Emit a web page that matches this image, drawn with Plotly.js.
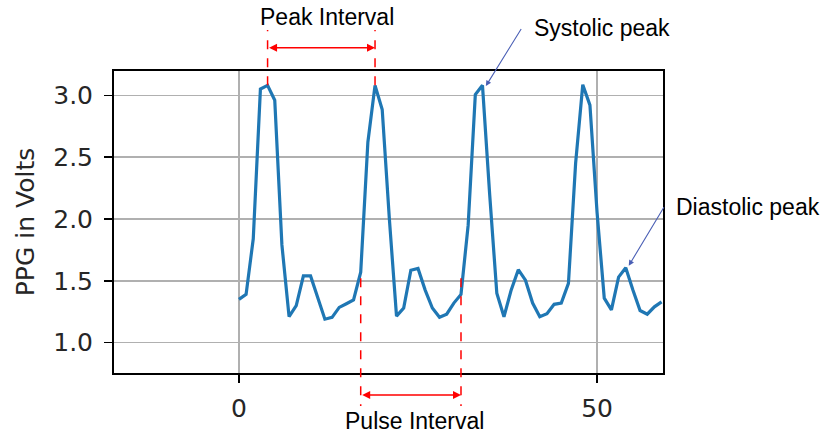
<!DOCTYPE html>
<html>
<head>
<meta charset="utf-8">
<script src="https://cdn.plot.ly/plotly-3.0.1.min.js"></script>
<style>html,body{margin:0;padding:0;background:#fff;}#chart{width:827px;height:433px;}</style>
</head>
<body>
<div id="chart"></div>
<script>
// Sample index (x) and PPG value in volts (y)
var sampleIndex = [0,1,2,3,4,5,6,7,8,9,10,11,12,13,14,15,16,17,18,19,20,21,22,23,24,25,26,27,28,29,30,31,32,33,34,35,36,37,38,39,40,41,42,43,44,45,46,47,48,49,50,51,52,53,54,55,56,57,58,59];
var ppgVolts = [1.35,1.39,1.84,3.05,3.08,2.96,1.79,1.21,1.30,1.54,1.54,1.37,1.19,1.205,1.285,1.315,1.345,1.57,2.62,3.08,2.885,2.0,1.215,1.28,1.585,1.60,1.425,1.28,1.205,1.23,1.32,1.39,1.95,3.005,3.08,2.2,1.40,1.21,1.425,1.59,1.505,1.32,1.21,1.235,1.31,1.32,1.48,2.45,3.085,2.92,2.05,1.36,1.265,1.53,1.605,1.425,1.26,1.23,1.29,1.33];

var xTickVals = [0, 50];
var xTickText = ['0', '50'];
var yTickVals = [1.0, 1.5, 2.0, 2.5, 3.0];
var yTickText = ['1.0', '1.5', '2.0', '2.5', '3.0'];

// interval markers (sample indices)
var peakIntervalStart = 4, peakIntervalEnd = 19;
var pulseIntervalStart = 17, pulseIntervalEnd = 31;

var xRange = [-17.44, 59.2];
var yRange = [0.755, 3.196];
function xp(v){ return (v - xRange[0]) / (xRange[1] - xRange[0]); }
function yp(v){ return (v - yRange[0]) / (yRange[1] - yRange[0]); }

var red = '#ff0000';
var blue = '#4a5fb5';
var annFont = {family: 'Liberation Sans, Arial, sans-serif', size: 23, color: '#000'};

var trace = {
  x: sampleIndex, y: ppgVolts, type: 'scatter', mode: 'lines',
  line: {color: '#1f77b4', width: 3.2}, hoverinfo: 'skip'
};

function vdash(xv, y0, y1){
  return {type: 'line', xref: 'paper', yref: 'paper', x0: xp(xv), x1: xp(xv), y0: y0, y1: y1,
          line: {color: red, width: 1.5, dash: 'dash'}, layer: 'above'};
}

var shapes = [
  vdash(peakIntervalStart, yp(ppgVolts[peakIntervalStart]), 1.136),
  vdash(peakIntervalEnd, yp(ppgVolts[peakIntervalEnd]), 1.136),
  vdash(pulseIntervalStart, yp(1.52), -0.109),
  vdash(pulseIntervalEnd, yp(1.52), -0.109)
];

var annotations = [
  {xref: 'x', yref: 'paper', x: peakIntervalEnd, y: 1.077, axref: 'x', ax: peakIntervalStart, ayref: 'pixel', ay: 0,
   text: '', showarrow: true, arrowhead: 2, arrowside: 'end+start', arrowsize: 1, arrowwidth: 1.6, arrowcolor: red},
  {xref: 'x', yref: 'paper', x: pulseIntervalEnd, y: -0.073, axref: 'x', ax: pulseIntervalStart, ayref: 'pixel', ay: 0,
   text: '', showarrow: true, arrowhead: 2, arrowside: 'end+start', arrowsize: 1, arrowwidth: 1.6, arrowcolor: red},
  {xref: 'x', yref: 'paper', x: 12.28, y: 1.178, text: 'Peak Interval', showarrow: false, font: annFont, xanchor: 'center', yanchor: 'middle'},
  {xref: 'x', yref: 'paper', x: 24.56, y: -0.158, text: 'Pulse Interval', showarrow: false, font: annFont, xanchor: 'center', yanchor: 'middle'},
  {xref: 'x', yref: 'y', x: 34.47, y: 3.074, axref: 'x', ax: 39.53, ayref: 'y', ay: 3.548,
   text: '', showarrow: true, arrowhead: 2, arrowsize: 1, arrowwidth: 1.1, arrowcolor: blue},
  {xref: 'x', yref: 'y', x: 54.42, y: 1.622, axref: 'x', ax: 59.45, ayref: 'y', ay: 2.107,
   text: '', showarrow: true, arrowhead: 2, arrowsize: 1, arrowwidth: 1.1, arrowcolor: blue},
  {xref: 'x', yref: 'paper', x: 40.85, y: 1.142, text: 'Systolic peak', showarrow: false, font: annFont, xanchor: 'left', yanchor: 'middle'},
  {xref: 'paper', yref: 'paper', x: 1.02, y: 0.551, text: 'Diastolic peak', showarrow: false, font: annFont, xanchor: 'left', yanchor: 'middle'}
];

var tickFont = {family: 'DejaVu Sans, sans-serif', size: 25, color: '#262626'};

var layout = {
  width: 827, height: 433,
  margin: {l: 114, r: 164, t: 71, b: 60, pad: 0},
  paper_bgcolor: '#fff', plot_bgcolor: '#fff',
  showlegend: false,
  xaxis: {
    range: xRange, tickvals: xTickVals, ticktext: xTickText,
    showgrid: true, gridcolor: '#b0b0b0', gridwidth: 1.5,
    zeroline: false, showline: true, linecolor: '#000', linewidth: 2, mirror: true,
    ticks: 'outside', ticklen: 8, tickwidth: 1.5, tickcolor: '#000',
    tickfont: tickFont, ticklabelstandoff: 4
  },
  yaxis: {
    range: yRange, tickvals: yTickVals, ticktext: yTickText,
    showgrid: true, gridcolor: '#b0b0b0', gridwidth: 1.5,
    zeroline: false, showline: true, linecolor: '#000', linewidth: 2, mirror: true,
    ticks: 'outside', ticklen: 8, tickwidth: 1.5, tickcolor: '#000',
    tickfont: tickFont, ticklabelstandoff: 6,
    title: {text: 'PPG in Volts', font: {family: 'DejaVu Sans, sans-serif', size: 25, color: '#262626'}, standoff: 11}
  },
  shapes: shapes,
  annotations: annotations
};

Plotly.newPlot('chart', [trace], layout, {staticPlot: true, displayModeBar: false});
</script>
</body>
</html>
